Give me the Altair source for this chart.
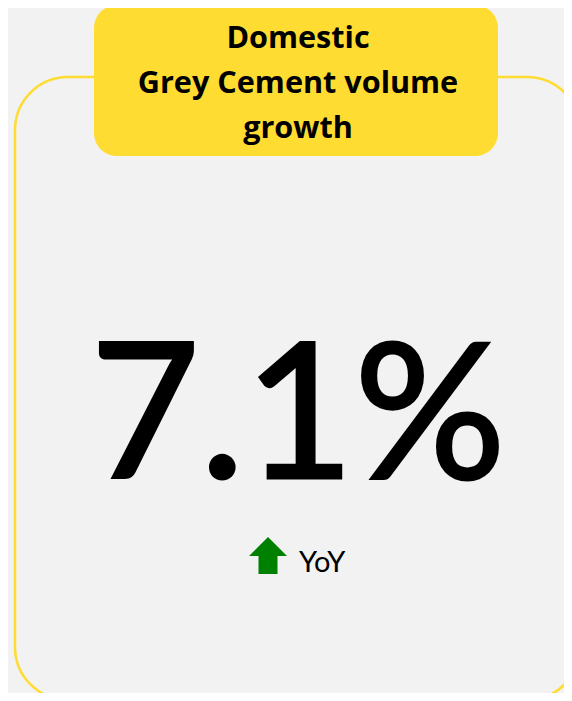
import altair as alt
import pandas as pd

# ---- data ----
title_lines = ["Domestic", "Grey Cement volume", "growth"]
kpi_values = [7.1]
kpi_units = ["%"]
compare_labels = ["YoY"]
trend = ["up"]

df = pd.DataFrame({
    "title": ["\n".join(title_lines)],
    "value": kpi_values,
    "unit": kpi_units,
    "compare": compare_labels,
    "trend": trend,
})
df["label"] = df["value"].map(lambda v: f"{v:.1f}") + df["unit"]

# ---- layout (page has an 8px margin) ----
M = 8
W, H = 556, 685
YELLOW = "#FFDC32"
BG = "#F2F2F2"


def X(v):
    return v - M


def Y(v):
    return v - M


ARROW = "M 0 -1 L 1 0 L 0.5 0 L 0.5 0.95 L -0.5 0.95 L -0.5 0 L -1 0 Z"

base = alt.Chart(df)

frame = base.mark_rect(
    fill="transparent", stroke=YELLOW, strokeWidth=2.5, cornerRadius=53
).encode(
    x=alt.value(X(15)), x2=alt.value(X(580)),
    y=alt.value(Y(77)), y2=alt.value(Y(700)),
)

box = base.mark_rect(fill=YELLOW, cornerRadius=23).encode(
    x=alt.value(X(94)), x2=alt.value(X(498)),
    y=alt.value(Y(5)), y2=alt.value(Y(156)),
)

title = base.mark_text(
    font="Open Sans", fontWeight="bold", fontSize=30.6, lineBreak="\n",
    lineHeight=45, align="center", baseline="alphabetic", color="black",
).encode(x=alt.value(X(298)), y=alt.value(Y(48)), text="title:N")

big = base.mark_text(
    font="Lato", fontSize=189, align="center", baseline="alphabetic",
    color="black", stroke="black", strokeWidth=3,
).encode(x=alt.value(X(298)), y=alt.value(Y(478)), text="label:N")

arrow = base.mark_point(
    shape=ARROW, filled=True, size=1444, opacity=1, strokeWidth=0,
).encode(
    x=alt.value(X(268)), y=alt.value(Y(556)),
    color=alt.Color("trend:N", scale=alt.Scale(domain=["up", "down"],
                                              range=["#008000", "#C00000"]),
                    legend=None),
)

yoy = base.mark_text(
    font="Lato", fontSize=29, align="left", baseline="alphabetic",
    color="black",
).encode(x=alt.value(X(299)), y=alt.value(Y(572)), text="compare:N")

chart = alt.layer(frame, box, title, big, arrow, yoy).properties(
    width=W, height=H, background=BG, padding=0, autosize="none",
).configure_view(stroke="transparent")

chart.save("out.html", embed_options={"renderer": "svg", "actions": False})
